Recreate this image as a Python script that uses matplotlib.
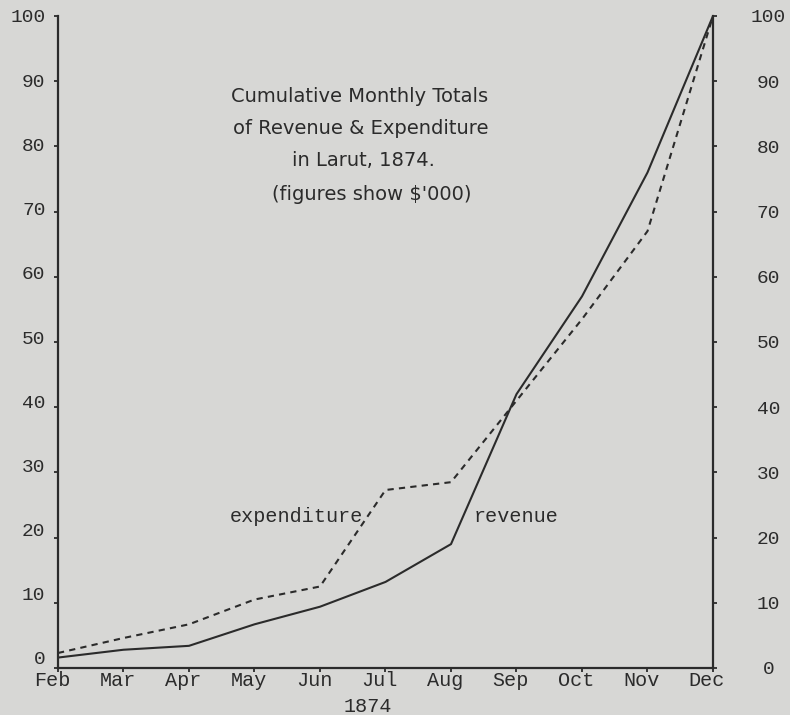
import matplotlib
matplotlib.use('Agg')
import matplotlib.pyplot as plt
import matplotlib.transforms as mtransforms

# ── data ($'000) ─────────────────────────────────────────────
months = ["Feb", "Mar", "Apr", "May", "Jun", "Jul", "Aug", "Sep", "Oct", "Nov", "Dec"]
revenue = [1.6, 2.8, 3.4, 6.7, 9.4, 13.2, 19.0, 42.0, 57.0, 76.0, 100.0]
expenditure = [2.3, 4.6, 6.7, 10.5, 12.5, 27.3, 28.5, 41.0, 53.5, 67.0, 100.0]
yticks = [0, 10, 20, 30, 40, 50, 60, 70, 80, 90, 100]
title_lines = ["Cumulative Monthly Totals", "of Revenue & Expenditure",
               "in Larut, 1874.", "(figures show $'000)"]

paper = '#d7d7d5'
ink = '#2b2b2b'
mono = 'Liberation Mono'

W, H = 790, 715
fig = plt.figure(figsize=(W / 100, H / 100), dpi=100, facecolor=paper)
ax = fig.add_axes([58 / W, 1 - 668 / H, (713 - 58) / W, (668 - 16) / H])
ax.set_facecolor(paper)

x = list(range(len(months)))
ax.plot(x, revenue, color=ink, lw=1.5)
ax.plot(x, expenditure, color=ink, lw=1.5, dashes=(3, 2.5))

ax.set_xlim(0, len(months) - 1)
ax.set_ylim(0, 100)

for s in ['left', 'bottom', 'right']:
    ax.spines[s].set_linewidth(1.6)
    ax.spines[s].set_color(ink)
ax.spines['top'].set_visible(False)

ax.set_xticks(x)
ax.set_xticklabels(months, fontfamily=mono, fontsize=14.5, color=ink)
ax.set_yticks(yticks)
ax.set_yticklabels(yticks, fontfamily=mono, fontsize=14, color=ink)
ax.tick_params(axis='x', length=3, width=1.3, color=ink, pad=-1)
ax.tick_params(axis='y', length=3, width=1.3, color=ink, pad=6)
# month labels sit a little left of their ticks
off = mtransforms.ScaledTranslation(-6 / 100, 0, fig.dpi_scale_trans)
for lab in ax.get_xticklabels():
    lab.set_transform(lab.get_transform() + off)
# left value labels drift above their ticks towards the bottom (hand lettering)
for lab, v in zip(ax.get_yticklabels(), yticks):
    up = mtransforms.ScaledTranslation(0, (10 - v / 10) / 100, fig.dpi_scale_trans)
    lab.set_transform(lab.get_transform() + up)

ax2 = ax.twinx()
ax2.set_ylim(0, 100)
ax2.set_yticks(yticks)
ax2.set_yticklabels(yticks, fontfamily=mono, fontsize=14, color=ink, ha='center')
ax2.tick_params(axis='y', length=3, width=1.3, color=ink, pad=37)
for s in ax2.spines.values():
    s.set_visible(False)

# year under the months
fig.text(368 / W, 1 - 706 / H, "1874", fontfamily=mono, fontsize=14.5,
         color=ink, ha='center', va='center')

# curve labels
ax.text(2.62, 23.3, "expenditure", fontfamily=mono, fontsize=14.5, color=ink,
        va='center', ha='left')
ax.text(6.34, 23.3, "revenue", fontfamily=mono, fontsize=14.5, color=ink,
        va='center', ha='left')

# title block in the upper left of the plot
ys = [97, 128, 160, 195]
xs = [360, 361, 363, 372]
for t, yy, xx in zip(title_lines, ys, xs):
    fig.text(xx / W, 1 - yy / H, t, fontfamily='DejaVu Sans', fontsize=14,
             color=ink, ha='center', va='center')

plt.savefig('out.png', dpi=100, facecolor=paper)
